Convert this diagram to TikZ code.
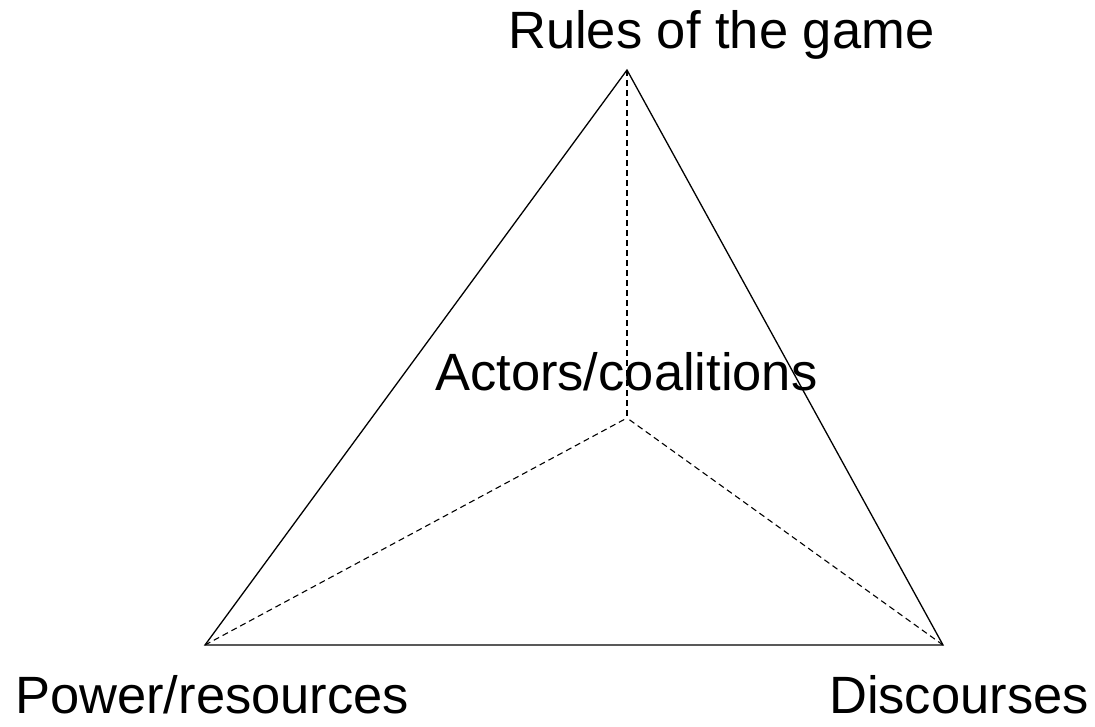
\documentclass[tikz,border=0pt]{standalone}
\usepackage{fontspec}
\setmainfont{Liberation Sans}
\begin{document}
\begin{tikzpicture}[x=1pt,y=-1pt,
  lbl/.style={inner sep=0pt,font=\fontsize{52.5}{60}\selectfont},
  edge/.style={line width=1.3pt,line join=miter},
  inner/.style={line width=1.1pt,dash pattern=on 6pt off 4pt}]
\useasboundingbox (0,0) rectangle (1095,726);
\coordinate (A) at (627,70);
\coordinate (L) at (205,645);
\coordinate (R) at (943,645);
\coordinate (C) at (627,418);
\draw[inner] (A) -- (C);
\draw[inner] (L) -- (C);
\draw[inner] (R) -- (C);
\draw[edge] (A) -- (L) -- (R) -- cycle;
\node[lbl,anchor=base west] (rules) at (508,48) {Rules of the game};
\node[lbl,anchor=base west] (actors) at (435,390) {Actors/coalitions};
\node[lbl,anchor=base west] (power) at (15,713) {Power/resources};
\node[lbl,anchor=base east] (disc) at (1089,713) {Discourses};
\end{tikzpicture}
\end{document}
